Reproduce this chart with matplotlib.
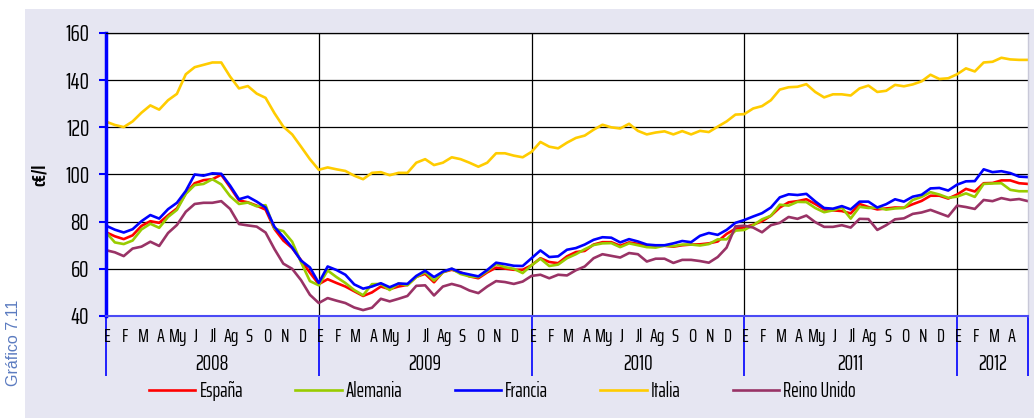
import numpy as np
import matplotlib.pyplot as plt
from matplotlib.patches import Rectangle
import matplotlib.transforms as mtransforms

plt.rcParams['font.family'] = ['Saira ExtraCondensed', 'DejaVu Sans']

# precios medios semanales (c€/l), muestreados cada medio mes desde enero 2008
meses = ['E', 'F', 'M', 'A', 'My', 'J', 'Jl', 'Ag', 'S', 'O', 'N', 'D']
anios = ['2008', '2009', '2010', '2011', '2012']
meses_por_anio = [12, 12, 12, 12, 4]

espana = [
    75.5, 73.8, 72.6, 74.2, 78.2, 80.2, 79.5, 82.7, 85.6, 92.0, 96.3, 97.6,
    98.0, 99.9, 94.6, 89.0, 88.2, 86.8, 85.1, 76.9, 72.0, 68.8, 63.7, 58.4,
    53.5, 55.6, 54.0, 52.5, 50.5, 48.5, 50.0, 52.5, 51.4, 52.5, 53.2, 56.6,
    57.9, 54.3, 58.6, 59.6, 58.5, 56.8, 56.0, 58.5, 60.5, 60.1, 59.6, 59.6,
    61.5, 64.5, 62.9, 62.4, 65.3, 67.1, 67.6, 70.3, 71.3, 71.3, 69.8, 71.2,
    70.6, 69.9, 69.8, 69.8, 69.4, 70.0, 70.3, 70.4, 70.8, 71.6, 74.8, 77.0,
    77.6, 78.7, 80.2, 82.5, 86.0, 88.2, 88.7, 89.5, 87.5, 85.2, 84.8, 84.5,
    83.5, 87.5, 86.2, 85.2, 85.6, 86.0, 85.9, 87.4, 88.8, 91.0, 91.0, 89.8,
    91.5, 93.9, 92.8, 96.3, 96.4, 97.5, 97.5, 96.3, 96.0,
]
alemania = [
    75.5, 71.2, 70.5, 72.0, 76.7, 79.1, 77.4, 82.0, 85.0, 91.8, 95.5, 96.0,
    98.0, 95.8, 90.8, 87.5, 88.1, 86.5, 87.0, 77.0, 76.0, 71.5, 62.8, 54.8,
    53.0, 59.3, 56.5, 54.0, 51.0, 48.8, 53.5, 53.6, 51.0, 53.8, 53.0, 56.5,
    58.6, 55.0, 58.5, 60.0, 57.8, 56.8, 56.5, 59.0, 62.0, 60.7, 60.0, 58.2,
    61.5, 64.3, 61.2, 61.8, 64.5, 66.2, 68.3, 70.1, 70.8, 70.9, 69.2, 70.8,
    70.0, 69.2, 69.0, 69.8, 69.6, 70.3, 70.3, 69.9, 70.5, 72.5, 72.5, 76.2,
    76.5, 78.5, 81.0, 82.5, 87.2, 86.8, 88.4, 88.3, 85.8, 84.0, 84.8, 86.0,
    81.3, 86.3, 85.8, 86.0, 85.1, 85.6, 85.8, 89.2, 90.5, 92.5, 91.5, 90.1,
    90.6, 92.0, 90.5, 96.0, 96.2, 96.3, 93.5, 92.9, 92.9,
]
francia = [
    78.3, 76.6, 75.4, 76.8, 80.2, 82.8, 81.3, 85.3, 88.0, 93.0, 100.0, 99.5,
    100.5, 100.3, 95.3, 89.5, 90.6, 88.5, 86.0, 77.8, 73.5, 69.0, 63.5, 60.6,
    54.0, 61.0, 59.5, 57.5, 53.4, 51.6, 52.5, 53.9, 52.2, 53.8, 53.6, 57.0,
    59.2, 56.5, 58.8, 60.1, 58.4, 57.6, 56.8, 59.5, 62.6, 62.0, 61.3, 61.2,
    64.5, 67.8, 65.0, 65.3, 68.1, 68.8, 70.3, 72.3, 73.4, 73.2, 71.2, 72.6,
    71.6, 70.3, 70.0, 70.0, 70.8, 71.8, 71.3, 74.0, 75.2, 74.4, 76.5, 79.5,
    80.7, 82.2, 83.6, 86.0, 90.3, 91.6, 91.3, 91.8, 88.6, 85.8, 85.5, 86.6,
    85.2, 88.5, 88.5, 86.0, 87.4, 89.5, 88.5, 90.6, 91.4, 94.1, 94.3, 93.2,
    95.7, 97.1, 97.2, 102.2, 101.0, 101.4, 100.6, 99.1, 98.9,
]
italia = [
    122.4, 121.0, 120.1, 122.5, 126.2, 129.3, 127.5, 131.5, 134.2, 142.5, 145.5, 146.5,
    147.5, 147.5, 141.5, 136.5, 137.5, 134.3, 132.5, 126.0, 120.3, 117.0, 111.8, 106.5,
    102.0, 103.0, 102.2, 101.5, 99.5, 98.0, 100.7, 101.0, 99.7, 100.7, 100.7, 105.0,
    106.5, 104.0, 105.0, 107.3, 106.5, 105.0, 103.3, 105.0, 109.0, 109.0, 108.0, 107.3,
    109.6, 113.8, 111.8, 111.1, 113.5, 115.5, 116.5, 119.0, 121.1, 120.0, 119.5, 121.5,
    118.5, 117.0, 117.8, 118.3, 117.0, 118.4, 117.0, 118.5, 118.0, 120.3, 122.5, 125.4,
    125.6, 128.0, 129.0, 131.5, 136.0, 137.0, 137.2, 138.3, 135.0, 132.7, 134.0, 134.0,
    133.5, 136.5, 137.7, 135.0, 135.5, 138.0, 137.4, 138.2, 139.5, 142.3, 140.5, 140.8,
    142.5, 145.0, 143.7, 147.5, 147.8, 149.5, 148.8, 148.6, 148.6,
]
reino_unido = [
    67.9, 67.0, 65.4, 68.6, 69.4, 71.5, 69.7, 75.2, 78.6, 84.2, 87.5, 88.0,
    88.0, 88.7, 85.4, 79.0, 78.4, 77.9, 75.4, 68.4, 62.2, 60.0, 55.2, 49.0,
    45.5, 47.6, 46.5, 45.5, 43.6, 42.5, 43.5, 47.3, 46.2, 47.3, 48.5, 52.8,
    53.0, 48.7, 52.5, 53.6, 52.6, 50.8, 49.7, 52.5, 54.8, 54.4, 53.6, 54.6,
    57.0, 57.5, 56.0, 57.5, 57.2, 59.4, 61.0, 64.5, 66.2, 65.5, 64.8, 66.7,
    66.2, 63.1, 64.3, 64.3, 62.5, 63.8, 63.8, 63.3, 62.6, 65.0, 69.0, 78.0,
    78.3, 77.5, 75.5, 78.5, 79.5, 82.0, 81.2, 82.6, 79.8, 77.8, 77.8, 78.5,
    77.5, 81.2, 81.1, 76.5, 78.5, 81.0, 81.4, 83.3, 83.9, 85.0, 83.6, 82.2,
    86.8, 86.2, 85.4, 89.2, 88.7, 90.0, 89.2, 89.6, 88.7,
]

series = [
    ('España', espana, '#FF0000'),
    ('Alemania', alemania, '#99CC00'),
    ('Francia', francia, '#0000FF'),
    ('Italia', italia, '#FFCC00'),
    ('Reino Unido', reino_unido, '#993366'),
]

n_meses = sum(meses_por_anio)
x = np.arange(len(espana)) * 0.5

fig = plt.figure(figsize=(10.34, 4.18), dpi=100)
fondo = Rectangle((25 / 1034, 0), 1, 409 / 418, transform=fig.transFigure,
                  facecolor='#E6E6F2', edgecolor='none', zorder=-10)
fig.patches.append(fondo)
fig.text(14 / 1034, 1 - 343 / 418, 'Gráfico 7.11', rotation=90, ha='center', va='center',
         color='#5B7BC0', fontsize=11.5, family=['Liberation Sans', 'DejaVu Sans'])

ax = fig.add_axes([106 / 1034, 102 / 418, 922 / 1034, 283 / 418])
ax.set_facecolor('white')

for nombre, valores, color in series:
    ax.plot(x, valores, color=color, lw=1.9, label=nombre, solid_joinstyle='round')

ax.set_xlim(0, n_meses)
ax.set_ylim(40, 160)

# rejilla horizontal y separadores de año
ax.set_yticks(np.arange(40, 161, 20))
ax.yaxis.grid(True, color='black', lw=0.9)
ax.set_axisbelow(True)
limites = np.cumsum([0] + meses_por_anio)
for lim in limites[1:-1]:
    ax.axvline(lim, color='black', lw=0.9, zorder=0.5)

ax.spines['left'].set_color('#0000FF')
ax.spines['left'].set_linewidth(2.5)
ax.spines['bottom'].set_color('#4A4AF5')
ax.spines['bottom'].set_linewidth(1.5)
ax.spines['top'].set_color('black')
ax.spines['top'].set_linewidth(0.9)
ax.spines['right'].set_color('#C8C8D8')
ax.spines['right'].set_linewidth(1)

ax.tick_params(axis='y', colors='#0000FF', length=5, width=1.5, labelcolor='black',
               labelsize=17, pad=7)
ax.set_ylabel('c€/l', fontsize=14, fontweight='bold', labelpad=12)

# eje de categorías: meses (menores) y cortes de año (mayores)
ax.xaxis.remove_overlapping_locs = False
ax.set_xticks(limites)
ax.set_xticklabels([''] * len(limites))
ax.tick_params(axis='x', which='major', colors='#0000FF', length=43, width=1.2)
etiquetas = [meses[i] for n in meses_por_anio for i in range(n)]
ax.set_xticks(np.arange(n_meses) + 0.08, minor=True)
ax.set_xticklabels(etiquetas, minor=True, fontsize=14)
ax.tick_params(axis='x', which='minor', length=0, pad=9, labelcolor='black')

trans = mtransforms.blended_transform_factory(ax.transData, ax.transAxes)
for anio, a, b in zip(anios, limites[:-1], limites[1:]):
    ax.text((a + b) / 2, -0.17, anio, transform=trans, ha='center', va='center', fontsize=15.5)

ax.legend(ncol=5, loc='center', bbox_to_anchor=(0.43, -0.265), frameon=False,
          fontsize=14.5, handlelength=2.3, handletextpad=0.2, columnspacing=2.6)

fig.savefig('out.png', dpi=100)
